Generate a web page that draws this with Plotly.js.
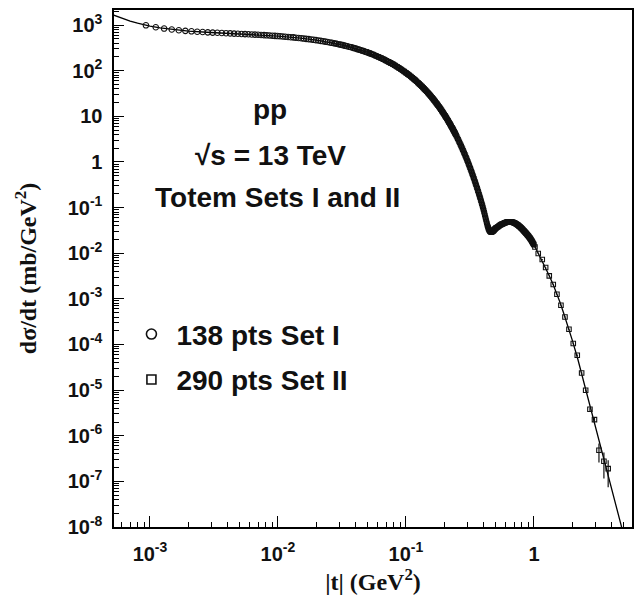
<!DOCTYPE html>
<html><head><meta charset="utf-8">
<script src="https://cdn.plot.ly/plotly-3.0.1.min.js"></script>
<style>html,body{margin:0;padding:0;background:#fff}#chart{width:635px;height:611px}</style>
</head><body><div id="chart"></div>
<script>
// ---- Set I (circles): |t| (GeV^2) and dsigma/dt (mb/GeV^2)
const set1T = [0.00093,0.00111,0.00129,0.00148,0.00168,0.00189,0.00211,0.00234,0.00258,0.00283,0.00309,0.00336,0.00364,0.00393,0.00423,0.00454,0.00486,0.00519,0.00553,0.00588,0.00624,0.00661,0.00699,0.00738,0.00778,0.00819,0.00861,0.00904,0.00948,0.00993,
0.0104,0.0109,0.0114,0.0120,0.0126,0.0132,0.0138,0.0145,0.0152,0.0159,0.0166,0.0174,0.0182,0.0190,0.0198,0.0207,0.0216,0.0225,0.0234,0.0244,0.0254,0.0264,0.0275,0.0286,0.0297,0.0309,0.0321,0.0333,0.0346,0.0359,
0.0373,0.0387,0.0401,0.0416,0.0431,0.0446,0.0462,0.0478,0.0494,0.0511,0.0528,0.0545,0.0563,0.0581,0.0599,0.0618,0.0637,0.0656,0.0676,0.0696,0.0716,0.0737,0.0758,0.0779,0.0801,0.0823,0.0845,0.0868,0.0891,0.0914,
0.0938,0.0962,0.0986,0.1011,0.1036,0.1061,0.1087,0.1113,0.1139,0.1166,0.1193,0.1220,0.1248,0.1276,0.1304,0.1333,0.1362,0.1391,0.1421,0.1451,0.1481,0.1512,0.1543,0.1574,0.1606,0.1638,0.1670,0.1703,0.1736,0.1769,
0.1803,0.1837,0.1871,0.1906,0.1941,0.1976,0.2012,0.2048,0.2084,0.2121,0.2158,0.2195,0.2233,0.2271,0.2309,0.2348,0.2387,0.2426];
const set1V = [988,896,838,798,768,746,729,715,703,693,684,677,669,663,656,650,645,639,633,628,623,617,612,606,601,596,590,585,579,574,
568,562,556,549,542,536,529,521,514,506,499,491,483,475,467,459,450,442,434,425,416,408,399,390,381,372,363,354,344,335,
326,317,308,298,289,281,272,263,254,246,237,229,221,213,205,197,190,182,175,168,161,154.5,148,142,135.5,129.5,124,118,113,107.5,
102,97.4,92.7,88.1,83.7,79.5,75.3,71.4,67.7,64.0,60.5,57.2,53.9,50.9,48.0,45.2,42.5,40.0,37.5,35.2,33.0,30.9,29.0,27.1,25.3,23.6,22.1,20.6,19.1,17.8,
16.6,15.4,14.3,13.2,12.3,11.4,10.5,9.70,8.96,8.26,7.61,7.00,6.43,5.91,5.43,4.97,4.55,4.17];

// ---- Set II (squares)
const set2T = [0.028,0.031,0.034,0.037,0.040,0.043,0.046,0.049,0.052,0.055,0.058,0.061,0.064,0.067,0.070,0.073,0.076,0.079,0.082,0.085,0.088,0.091,0.094,0.097,0.100,
0.103,0.106,0.109,0.112,0.115,0.118,0.121,0.124,0.127,0.130,0.133,0.136,0.139,0.142,0.145,0.148,0.151,0.154,0.157,0.160,0.163,0.166,0.169,0.172,0.175,0.178,0.181,0.184,0.187,0.190,0.193,0.196,0.199,0.202,0.205,0.208,0.211,0.214,0.217,0.220,0.223,0.226,0.229,0.232,0.235,0.238,0.241,0.244,0.247,0.250,0.253,0.256,0.259,0.262,0.265,0.268,0.271,0.274,0.277,0.280,0.283,0.286,0.289,0.292,0.295,0.298,0.301,0.304,0.307,0.310,0.313,0.316,0.319,0.322,0.325,0.328,0.331,0.334,0.337,0.340,0.343,0.346,0.349,0.352,0.355,0.358,0.361,0.364,0.367,0.370,0.373,0.376,0.379,0.382,0.385,0.388,0.391,0.394,0.397,0.400,
0.403,0.406,0.409,0.412,0.415,0.418,0.421,0.424,0.427,0.430,0.433,0.436,0.439,0.442,0.445,0.448,0.451,0.454,0.457,0.460,0.463,0.466,0.469,0.472,0.475,0.478,0.481,0.484,0.487,0.490,0.493,0.496,0.499,0.502,
0.505,0.510,0.515,0.520,0.525,0.530,0.535,0.540,0.545,0.550,0.555,0.560,0.565,0.570,0.575,0.580,0.585,0.590,0.595,0.600,0.605,0.610,0.615,0.620,0.625,0.630,0.635,0.640,0.645,0.650,0.655,0.660,0.665,0.670,0.675,0.680,0.685,0.690,0.695,0.700,
0.705,0.710,0.715,0.720,0.725,0.730,0.735,0.740,0.745,0.750,0.755,0.760,0.765,0.770,0.775,0.780,0.785,0.790,0.795,0.800,0.805,0.810,0.815,0.820,0.825,0.830,0.835,0.840,0.845,0.850,0.855,0.860,0.865,0.870,0.875,0.880,0.885,0.890,0.895,0.900,
0.905,0.910,0.915,0.920,0.925,0.930,0.935,0.940,0.945,0.950,0.955,0.960,0.965,0.970,0.975,0.980,0.985,0.990,0.995,1.000];
const set2V = [394,371,349,328,308,290,273,256.5,241,227,213,201,189,177,167,157,147.5,139,130.5,123,115,108.5,102,96,90.2,
84.7,79.6,74.9,70.4,66.1,62.1,58.4,54.8,51.5,48.4,45.4,42.7,40.1,37.6,35.3,33.1,31.1,29.1,27.3,25.6,24.1,22.5,21.1,19.8,18.6,17.4,16.3,15.3,14.3,13.4,
12.6,11.8,11.0,10.3,9.65,9.03,8.45,7.91,7.40,6.92,6.47,6.05,5.66,5.29,4.95,4.63,4.32,4.04,3.77,3.53,3.29,3.07,2.87,2.68,2.50,2.34,2.18,2.04,1.90,1.77,
1.65,1.54,1.44,1.34,1.25,1.165,1.086,1.012,0.943,0.879,0.819,0.763,0.710,0.661,0.616,0.573,0.534,0.497,0.462,0.430,0.400,0.372,0.346,0.322,0.299,0.278,0.259,0.240,0.224,0.208,
0.193,0.179,0.167,0.155,0.144,0.133,0.124,0.115,0.107,0.0990,
0.0912,0.0841,0.0776,0.0714,0.0658,0.0605,0.0557,0.0513,0.0473,0.0439,0.0408,0.0383,0.0361,0.0344,0.0329,0.0317,0.0308,0.0301,0.0296,0.0294,0.0292,0.0292,0.0294,0.0296,0.0300,0.0304,0.0309,0.0315,0.0321,0.0327,0.0333,0.0339,0.0345,0.0352,
0.0355,0.0362,0.0369,0.0376,0.0383,0.0391,0.0398,0.0406,0.0414,0.0422,0.0426,0.0431,0.0436,0.0440,0.0445,0.0450,0.0455,0.0460,0.0465,0.0470,
0.0474,0.0477,0.0481,0.0483,0.0486,0.0487,0.0488,0.0488,0.0488,0.0488,0.0487,0.0486,0.0484,0.0482,0.0480,0.0478,0.0475,0.0471,0.0467,0.0463,
0.0459,0.0454,0.0449,0.0443,0.0438,0.0433,0.0427,0.0422,0.0417,0.0412,0.0406,0.0400,0.0394,0.0388,0.0382,0.0376,0.0370,0.0363,0.0357,0.0351,
0.0345,0.0338,0.0332,0.0326,0.0320,0.0314,0.0309,0.0303,0.0297,0.0292,0.0286,0.0281,0.0276,0.0271,0.0266,0.0261,0.0256,0.0252,0.0247,0.0243,
0.0238,0.0233,0.0228,0.0223,0.0219,0.0214,0.0210,0.0206,0.0201,0.0197,0.0192,0.0187,0.0183,0.0178,0.0174,0.0169,0.0165,0.0161,0.0157,0.0153];

// ---- Set II, large-|t| points with error bars
const set2TailT = [1.018,1.080,1.161,1.234,1.317,1.415,1.512,1.625,1.747,1.877,2.028,2.179,2.358,2.535,2.738,2.970,3.220,3.520,3.800];
const set2TailV = [0.0137,0.00984,0.00728,0.00486,0.00318,0.00206,0.00126,7.24e-4,4.01e-4,2.15e-4,1.05e-4,5.8e-5,2.37e-5,9.9e-6,3.8e-6,2.25e-6,4.8e-7,2.75e-7,1.9e-7];
const set2TailErrUp = [3e-4,2e-4,1.5e-4,1e-4,7e-5,5e-5,3e-5,2e-5,1.2e-5,7e-6,4e-6,2.5e-6,1.2e-6,6e-7,3e-7,2.5e-7,2.0e-7,1.55e-7,1.0e-7];
const set2TailErrDown = [3e-4,2e-4,1.5e-4,1e-4,7e-5,5e-5,3e-5,2e-5,1.2e-5,7e-6,4e-6,2.5e-6,1.2e-6,6e-7,3e-7,2.5e-7,2.2e-7,1.59e-7,1.16e-7];

// ---- Model curve
const fitT = [0.00052,0.0006,0.0007,0.0008,0.0009,0.001,0.0012,0.0015,0.002,0.003,0.004,0.006,0.008,0.01,0.015,0.02,0.03,0.04,0.05,0.06,0.07,0.08,0.09,0.1,0.12,0.14,0.16,0.18,0.2,0.22,0.24,0.26,0.28,0.3,0.32,0.34,0.36,0.38,0.4,0.415,0.43,0.445,0.455,0.465,0.475,0.49,0.52,0.55,0.6,0.64,0.7,0.75,0.8,0.85,0.9,0.95,1.0,1.05,1.1,1.2,1.3,1.4,1.5,1.6,1.7,1.8,1.9,2.0,2.2,2.43,2.6,2.8,3.0,3.2,3.4,3.6,3.8,4.0,4.3,4.6,4.84,5.2];
const fitV = [1657,1416,1223,1097,1009,947,864,795,737,687,660,625,597,571,515,465,378,308,251,204,167,136,110,90.1,59.7,39.3,25.7,16.7,10.8,6.92,4.42,2.81,1.77,1.11,0.693,0.430,0.265,0.163,0.099,0.0658,0.0439,0.0329,0.0299,0.0292,0.0300,0.0327,0.0376,0.0422,0.0470,0.0488,0.0463,0.0412,0.0351,0.0292,0.0243,0.0197,0.0153,0.0117,0.0091,0.0056,0.00347,0.00219,0.00135,8.3e-4,5.0e-4,3.1e-4,1.95e-4,1.2e-4,4.8e-5,1.64e-5,8.1e-6,3.7e-6,1.8e-6,8.5e-7,4.5e-7,2.45e-7,1.35e-7,7.9e-8,3.6e-8,1.74e-8,1.0e-8,4.6e-9];

// ---- axis ticks
const xTickVals = [0.001, 0.01, 0.1, 1];
const xTickText = ['10<sup>-3</sup>', '10<sup>-2</sup>', '10<sup>-1</sup>', '1'];
const yTickVals = [1e-8,1e-7,1e-6,1e-5,1e-4,1e-3,1e-2,1e-1,1,10,100,1000];
const yTickText = ['10<sup>-8</sup>','10<sup>-7</sup>','10<sup>-6</sup>','10<sup>-5</sup>','10<sup>-4</sup>','10<sup>-3</sup>','10<sup>-2</sup>','10<sup>-1</sup>','1','10','10<sup>2</sup>','10<sup>3</sup>'];

function minorVals(lo, hi) {
  const v = [];
  for (let e = lo; e <= hi; e++) for (let k = 2; k <= 9; k++) v.push(k * Math.pow(10, e));
  return v;
}

const INK = '#111';
const SANS = 'Liberation Sans, Arial, Helvetica, sans-serif';
const SERIF = 'Liberation Serif, Times New Roman, serif';

const traces = [
  { x: fitT, y: fitV, mode: 'lines', line: { color: '#000', width: 1.3 }, showlegend: false, hoverinfo: 'skip' },
  { x: set1T, y: set1V, mode: 'markers', showlegend: false,
    marker: { symbol: 'circle-open', size: 5.5, color: INK, line: { width: 1.1, color: INK } } },
  { x: set2T, y: set2V, mode: 'markers', showlegend: false,
    marker: { symbol: 'square-open', size: 4.2, color: INK, line: { width: 1.1, color: INK } } },
  { x: set2TailT, y: set2TailV, mode: 'markers', showlegend: false,
    marker: { symbol: 'square-open', size: 4.5, color: INK, line: { width: 1.1, color: INK } },
    error_y: { type: 'data', symmetric: false, array: set2TailErrUp, arrayminus: set2TailErrDown, width: 0, thickness: 1.2, color: INK } },
  { x: [null], y: [null], mode: 'markers', name: '138 pts Set I', legendgroup: 'a',
    marker: { symbol: 'circle-open', size: 10, color: INK, line: { width: 1.6, color: INK } } },
  { x: [null], y: [null], mode: 'markers', name: '290 pts Set II', legendgroup: 'b',
    marker: { symbol: 'square-open', size: 9, color: INK, line: { width: 1.6, color: INK } } }
];

const axisCommon = {
  type: 'log', showline: true, mirror: true, linecolor: '#000', linewidth: 1.6,
  ticks: 'inside', tickcolor: '#000', tickwidth: 1, showgrid: false, zeroline: false,
  tickmode: 'array',
  tickfont: { family: SANS, size: 20, weight: 'bold', color: INK }
};

const annFont = { family: SANS, size: 28, weight: 'bold', color: INK };

const layout = {
  width: 635, height: 611,
  margin: { l: 114, r: 3, t: 10, b: 84 },
  paper_bgcolor: '#fff', plot_bgcolor: '#fff',
  xaxis: Object.assign({}, axisCommon, {
    range: [-3.281, 0.766], tickvals: xTickVals, ticktext: xTickText, ticklen: 11,
    ticklabelstandoff: 8,
    minor: { tickmode: 'array', tickvals: minorVals(-4, 0), ticks: 'inside', ticklen: 5, tickcolor: '#000', tickwidth: 1 },
    title: { text: '|t| (GeV<sup>2</sup>)', font: { family: SERIF, size: 24, weight: 'bold', color: INK }, standoff: 8 }
  }),
  yaxis: Object.assign({}, axisCommon, {
    range: [-8, 3.33], tickvals: yTickVals, ticktext: yTickText, ticklen: 10,
    ticklabelstandoff: 6,
    minor: { tickmode: 'array', tickvals: minorVals(-8, 3), ticks: 'inside', ticklen: 5, tickcolor: '#000', tickwidth: 1 },
    title: { text: 'd\u03c3/dt (mb/GeV<sup>2</sup>)', font: { family: SERIF, size: 24, weight: 'bold', color: INK }, standoff: 24 }
  }),
  legend: {
    x: 0.024, xanchor: 'left', y: 0.421, yanchor: 'top',
    bgcolor: 'rgba(0,0,0,0)', borderwidth: 0,
    font: { family: SANS, size: 28, weight: 'bold', color: INK },
    itemwidth: 40, traceorder: 'grouped', tracegroupgap: 6
  },
  annotations: [
    { text: 'pp', xref: 'paper', yref: 'paper', x: 0.301, y: 0.807, xanchor: 'center', yanchor: 'middle', showarrow: false, font: annFont },
    { text: '\u221As = 13 TeV', xref: 'paper', yref: 'paper', x: 0.303, y: 0.7195, xanchor: 'center', yanchor: 'middle', showarrow: false, font: annFont },
    { text: 'Totem Sets I and II', xref: 'paper', yref: 'paper', x: 0.3166, y: 0.638, xanchor: 'center', yanchor: 'middle', showarrow: false, font: annFont }
  ]
};

Plotly.newPlot('chart', traces, layout, { displayModeBar: false, staticPlot: true });
</script></body></html>
